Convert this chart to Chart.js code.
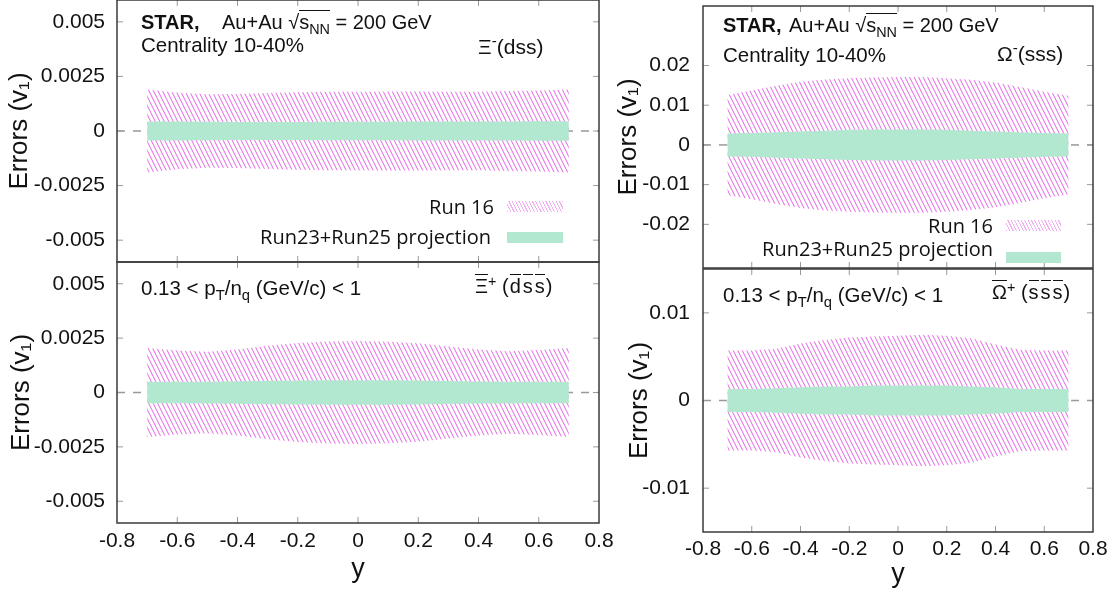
<!DOCTYPE html>
<html><head><meta charset="utf-8">
<script src="https://cdn.jsdelivr.net/npm/chart.js@4.4.1/dist/chart.umd.min.js"></script>
<style>
html,body{margin:0;padding:0;background:#fff;}
#wrap{position:relative;width:1119px;height:594px;overflow:hidden;font-family:"Liberation Sans",Arial,Helvetica,sans-serif;color:#111;}
canvas{position:absolute;}
.t{position:absolute;white-space:nowrap;font-size:20px;line-height:1;}
.lg{position:absolute;white-space:nowrap;font-family:"Open Sans",sans-serif;font-size:20px;line-height:1;text-align:right;color:#111;}
.sw{position:absolute;}
.hatch{background:repeating-linear-gradient(63deg, rgba(232,110,232,0.55) 0 1px, rgba(255,255,255,0) 1px 3px);}
.green{background:#b2e8cf;}
sub{font-size:0.72em;vertical-align:-0.32em;line-height:0;}
sup{font-size:0.72em;vertical-align:0.5em;line-height:0;}
.vin{border-top:1px solid #111;}
.ol{border-top:1.5px solid #111;}
.ol1{border-top:1.5px solid #111;margin:0 1px;}
</style>
</head>
<body>
<div id="wrap">
  <canvas id="cLT" width="640" height="270" style="left:0;top:0"></canvas>
  <canvas id="cLB" width="640" height="344" style="left:0;top:250px"></canvas>
  <canvas id="cRT" width="509" height="276" style="left:610px;top:0"></canvas>
  <canvas id="cRB" width="509" height="337" style="left:610px;top:257px"></canvas>

  <!-- left top annotations -->
  <div class="t" style="left:141px;top:12px;"><b>STAR,</b></div>
  <div class="t" style="left:222px;top:12px;">Au+Au √<span class="vin">s<sub>NN</sub></span> = 200 GeV</div>
  <div class="t" style="left:141px;top:35px;font-size:20.5px">Centrality 10-40%</div>
  <div class="t" style="left:478px;top:36px;font-size:21px">Ξ<sup>-</sup>(dss)</div>
  <div class="lg" style="right:625px;top:197px">Run 16</div>
  <div class="sw hatch" style="left:507px;top:201px;width:56px;height:11px"></div>
  <div class="lg" style="right:628px;top:227px">Run23+Run25 projection</div>
  <div class="sw green" style="left:507px;top:232px;width:56px;height:11px"></div>

  <!-- left bottom annotations -->
  <div class="t" style="left:141px;top:278px;font-size:20.5px">0.13 &lt; p<sub>T</sub>/n<sub>q</sub> (GeV/c) &lt; 1</div>
  <div class="t" style="left:475px;top:276px;font-size:20px"><span class="ol">Ξ</span><sup>+</sup> (<span class="ol1">d</span><span class="ol1">s</span><span class="ol1">s</span>)</div>

  <!-- right top annotations -->
  <div class="t" style="left:723px;top:15px;"><b>STAR,</b></div>
  <div class="t" style="left:789px;top:15px;">Au+Au √<span class="vin">s<sub>NN</sub></span> = 200 GeV</div>
  <div class="t" style="left:723px;top:45px;font-size:20.5px">Centrality 10-40%</div>
  <div class="t" style="left:997px;top:43px;font-size:21px">Ω<sup>-</sup>(sss)</div>
  <div class="lg" style="right:126px;top:216px">Run 16</div>
  <div class="sw hatch" style="left:1006px;top:220px;width:55px;height:11px"></div>
  <div class="lg" style="right:126px;top:239px">Run23+Run25 projection</div>
  <div class="sw green" style="left:1006px;top:252px;width:55px;height:11px"></div>

  <!-- right bottom annotations -->
  <div class="t" style="left:723px;top:285px;font-size:20.5px">0.13 &lt; p<sub>T</sub>/n<sub>q</sub> (GeV/c) &lt; 1</div>
  <div class="t" style="left:992px;top:282px;font-size:20px"><span class="ol">Ω</span><sup>+</sup> (<span class="ol1">s</span><span class="ol1">s</span><span class="ol1">s</span>)</div>
</div>
<script>
// ---- data ----
const yRap = [-0.7,-0.6,-0.5,-0.4,-0.3,-0.2,-0.1,0,0.1,0.2,0.3,0.4,0.5,0.6,0.7];
const xTickValues = [-0.8,-0.6,-0.4,-0.2,0,0.2,0.4,0.6,0.8];
const xTickLabels = ['-0.8','-0.6','-0.4','-0.2','0','0.2','0.4','0.6','0.8'];
const zeroLineX = [-0.8, 0.8];
const zeroLineY = 0;

// Xi- (dss): errors on v1
const xiMinusRun16 = [0.0019,0.00175,0.00168,0.0017,0.00174,0.00177,0.0018,0.0018,0.00181,0.00181,0.0018,0.0018,0.00183,0.00186,0.0019];
const xiMinusProj  = [0.00044,0.00043,0.00042,0.00041,0.00041,0.00041,0.00042,0.00042,0.00042,0.00043,0.00043,0.00044,0.00044,0.00045,0.00045];
// anti-Xi+ (dss-bar)
const xiPlusRun16 = [0.00205,0.00193,0.00187,0.00198,0.00215,0.00228,0.00234,0.00237,0.00233,0.00226,0.00212,0.00198,0.0019,0.00195,0.00205];
const xiPlusProj  = [0.00049,0.00049,0.0005,0.00052,0.00054,0.00055,0.00056,0.00056,0.00056,0.00055,0.00053,0.00051,0.0005,0.00049,0.00049];
// Omega- (sss)
const omMinusRun16 = [0.0126,0.0137,0.0149,0.0159,0.0165,0.0168,0.017,0.0171,0.0171,0.0168,0.0164,0.0157,0.0146,0.0134,0.0124];
const omMinusProj  = [0.0029,0.003,0.0032,0.0034,0.0036,0.0038,0.0039,0.0039,0.0039,0.0038,0.0036,0.0034,0.0032,0.003,0.0029];
// anti-Omega+ (sss-bar)
const omPlusRun16 = [0.0057,0.0057,0.0059,0.0065,0.0069,0.0072,0.0073,0.0074,0.0075,0.0074,0.0071,0.0064,0.0058,0.0057,0.0057];
const omPlusProj  = [0.0013,0.0013,0.0014,0.0015,0.0016,0.0016,0.0017,0.0017,0.0017,0.0017,0.0016,0.0015,0.0013,0.0013,0.0013];

const xiYTicks = [-0.005,-0.0025,0,0.0025,0.005];
const xiYTickLabels = ['-0.005','-0.0025','0','0.0025','0.005'];
const omMinusYTicks = [-0.02,-0.01,0,0.01,0.02];
const omMinusYTickLabels = ['-0.02','-0.01','0','0.01','0.02'];
const omPlusYTicks = [-0.01,0,0.01];
const omPlusYTickLabels = ['-0.01','0','0.01'];

const yTitle = 'Errors (v\u2081)';
const xTitle = 'y';

// ---- styling ----
const FONT = '"Liberation Sans", Arial, Helvetica, sans-serif';
Chart.defaults.font.family = FONT;
Chart.defaults.color = '#111';
const GREEN = '#b2e8cf';

function makeHatch() {
  const c = document.createElement('canvas');
  c.width = 9; c.height = 18;
  const g = c.getContext('2d');
  g.strokeStyle = 'rgba(222,70,222,0.85)';
  g.lineWidth = 1;
  for (const off of [-9, -4.5, 0, 4.5, 9]) {
    g.beginPath(); g.moveTo(off, 0); g.lineTo(off + 9, 18); g.stroke();
  }
  return g.createPattern(c, 'repeat');
}
const HATCH = makeHatch();

const framePlugin = {
  id: 'frame',
  afterDatasetsDraw(chart) {
    const {ctx, chartArea: a, scales: {x, y}} = chart;
    ctx.save();
    ctx.strokeStyle = '#9a9a9a';
    ctx.lineWidth = 1;
    const L = 6;
    const seg = (x1, y1, x2, y2) => { ctx.beginPath(); ctx.moveTo(x1, y1); ctx.lineTo(x2, y2); ctx.stroke(); };
    x.ticks.forEach(t => {
      const px = x.getPixelForValue(t.value);
      if (px <= a.left + 1 || px >= a.right - 1) return;
      seg(px, a.bottom, px, a.bottom - L);
      seg(px, a.top, px, a.top + L);
    });
    y.ticks.forEach(t => {
      const py = y.getPixelForValue(t.value);
      if (py <= a.top + 1 || py >= a.bottom - 1) return;
      seg(a.left, py, a.left + L, py);
      seg(a.right, py, a.right - L, py);
    });
    ctx.strokeStyle = '#3a3a3a';
    ctx.lineWidth = 1.5;
    ctx.strokeRect(a.left, a.top, a.right - a.left, a.bottom - a.top);
    ctx.restore();
  }
};

function band(err, color) {
  return [
    {data: yRap.map((x, i) => ({x, y: err[i]})), borderWidth: 0, borderColor: 'rgba(0,0,0,0)', pointRadius: 0, fill: false, backgroundColor: color},
    {data: yRap.map((x, i) => ({x, y: -err[i]})), borderWidth: 0, borderColor: 'rgba(0,0,0,0)', pointRadius: 0, fill: '-1', backgroundColor: color}
  ];
}

function makePanel(id, p) {
  const datasets = [
    ...band(p.proj, GREEN),
    ...band(p.run16, HATCH),
    {data: zeroLineX.map(x => ({x, y: zeroLineY})), borderColor: '#9a9a9a', borderWidth: 1.5, borderDash: [8, 8], pointRadius: 0, fill: false}
  ];
  new Chart(document.getElementById(id), {
    type: 'line',
    data: {datasets},
    plugins: [framePlugin],
    options: {
      responsive: false,
      animation: false,
      devicePixelRatio: 1,
      events: [],
      layout: {padding: p.pad},
      plugins: {legend: {display: false}, tooltip: {enabled: false}},
      scales: {
        x: {
          type: 'linear', position: 'bottom', min: -0.8, max: 0.8,
          afterBuildTicks: s => { s.ticks = xTickValues.map(v => ({value: v})); },
          afterFit: s => { s.height = p.xAxisHeight; s.paddingLeft = 0; s.paddingRight = 0; },
          grid: {display: false, drawTicks: false},
          border: {display: false},
          ticks: {display: p.showX, padding: p.xTickPad || 6, autoSkip: false, maxRotation: 0, minRotation: 0,
                  font: {size: 21, family: FONT}, color: '#111', callback: (v, i) => xTickLabels[i]},
          title: {display: p.showX, text: xTitle, color: '#111', font: {size: 27, family: FONT},
                  padding: {top: 0, bottom: p.xTitlePad || 0}}
        },
        y: {
          type: 'linear', position: 'left', min: p.yMin, max: p.yMax,
          afterBuildTicks: s => { s.ticks = p.yTicks.map(v => ({value: v})); },
          afterFit: s => { s.width = p.yAxisWidth; s.paddingTop = 0; s.paddingBottom = 0; },
          grid: {display: false, drawTicks: false},
          border: {display: false},
          ticks: {padding: p.yTickPad, font: {size: 21, family: FONT}, color: '#111', callback: (v, i) => p.yLabels[i]},
          title: {display: true, text: yTitle, color: '#111', font: {size: 26, family: FONT},
                  padding: {top: p.yTitlePad, bottom: 0}}
        }
      }
    }
  });
}

makePanel('cLT', {run16: xiMinusRun16, proj: xiMinusProj, yMin: -0.006, yMax: 0.006,
  yTicks: xiYTicks, yLabels: xiYTickLabels, yAxisWidth: 117, xAxisHeight: 0, showX: false,
  pad: {top: 0, right: 41, bottom: 8, left: 0}, yTickPad: 12, yTitlePad: 4});
makePanel('cLB', {run16: xiPlusRun16, proj: xiPlusProj, yMin: -0.006, yMax: 0.006,
  yTicks: xiYTicks, yLabels: xiYTickLabels, yAxisWidth: 117, xAxisHeight: 71, showX: true,
  pad: {top: 12, right: 41, bottom: 0, left: 0}, yTickPad: 12, yTitlePad: 6, xTickPad: 6, xTitlePad: 8});
makePanel('cRT', {run16: omMinusRun16, proj: omMinusProj, yMin: -0.031, yMax: 0.035,
  yTicks: omMinusYTicks, yLabels: omMinusYTickLabels, yAxisWidth: 93, xAxisHeight: 0, showX: false,
  pad: {top: 6, right: 26, bottom: 8, left: 0}, yTickPad: 13, yTitlePad: 3});
makePanel('cRB', {run16: omPlusRun16, proj: omPlusProj, yMin: -0.015, yMax: 0.015,
  yTicks: omPlusYTicks, yLabels: omPlusYTickLabels, yAxisWidth: 93, xAxisHeight: 62, showX: true,
  pad: {top: 12, right: 26, bottom: 0, left: 0}, yTickPad: 13, yTitlePad: 14, xTickPad: 5, xTitlePad: 3});
</script>
</body></html>
